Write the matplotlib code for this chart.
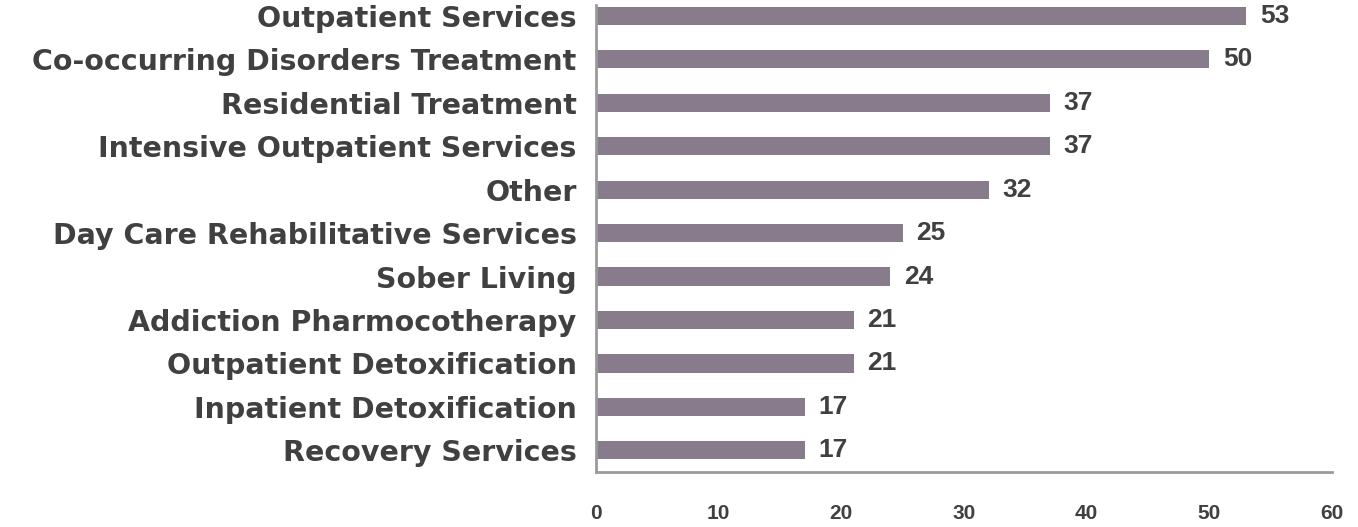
import matplotlib
matplotlib.use("Agg")
import matplotlib.pyplot as plt

categories = [
    "Outpatient Services",
    "Co-occurring Disorders Treatment",
    "Residential Treatment",
    "Intensive Outpatient Services",
    "Other",
    "Day Care Rehabilitative Services",
    "Sober Living",
    "Addiction Pharmocotherapy",
    "Outpatient Detoxification",
    "Inpatient Detoxification",
    "Recovery Services",
]
values = [53, 50, 37, 37, 32, 25, 24, 21, 21, 17, 17]
xticks = [0, 10, 20, 30, 40, 50, 60]

bar_color = "#877b8c"
text_color = "#404040"
spine_color = "#9a9a9a"

fig = plt.figure(figsize=(13.58, 5.27), dpi=100)
ax = fig.add_axes([596 / 1358, 1 - 472 / 527, (1332 - 596) / 1358, (472 - 5) / 527])

n = len(categories)
ypos = [n - 1 - i for i in range(n)]
ax.barh(ypos, values, height=0.42, color=bar_color, zorder=2)

for y, v in zip(ypos, values):
    ax.annotate(str(v), xy=(v, y), xytext=(10, 0), textcoords="offset points",
                ha="left", va="center", fontsize=19, fontweight="bold",
                family="Liberation Sans", color=text_color)

ax.set_xlim(0, 60)
ax.set_ylim(-0.5, n - 1 + 0.25)
ax.set_xticks(xticks)
ax.set_xticklabels([str(t) for t in xticks], fontsize=15, fontweight="bold",
                   family="Liberation Sans", color=text_color)
ax.set_yticks(ypos)
ax.set_yticklabels(categories, fontsize=20.5, fontweight="bold",
                   family="DejaVu Sans", color=text_color)
ax.tick_params(axis="x", length=0, pad=23)
ax.tick_params(axis="y", length=0, pad=14)

for side in ("top", "right"):
    ax.spines[side].set_visible(False)
for side in ("left", "bottom"):
    ax.spines[side].set_color(spine_color)
    ax.spines[side].set_linewidth(2)

fig.savefig("out.png", dpi=100)
